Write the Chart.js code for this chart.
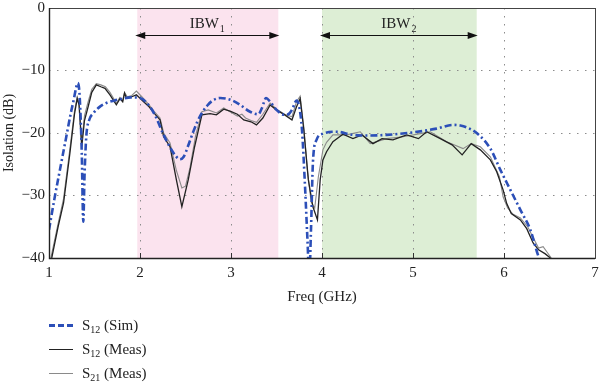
<!DOCTYPE html>
<html>
<head>
<meta charset="utf-8">
<script src="https://cdn.jsdelivr.net/npm/chart.js@4.4.1/dist/chart.umd.min.js"></script>
<style>
  html, body { margin: 0; padding: 0; background: #fff; }
  #wrap { position: relative; width: 600px; height: 388px; }
  #chart { position: absolute; left: 0; top: 0; }
  #legend { position: absolute; left: 49px; top: 313px; font-family: "Liberation Serif", serif; font-size: 15px; color: #222; }
  .row { height: 24px; display: flex; align-items: center; }
  .swatch { width: 24px; margin-right: 9px; }
  .sim { height: 3px; background: repeating-linear-gradient(to right, #2c4fb8 0 6px, transparent 6px 9px); }
  .s12 { height: 0; border-top: 1.3px solid #222; }
  .s21 { height: 0; border-top: 1px solid #8a8a8a; }
  sub { font-size: 10px; vertical-align: baseline; position: relative; top: 3px; }
</style>
</head>
<body>
<div id="wrap">
  <canvas id="chart" width="600" height="388"></canvas>
  <div id="legend">
    <div class="row"><span class="swatch sim"></span><span>S<sub>12</sub> (Sim)</span></div>
    <div class="row"><span class="swatch s12"></span><span>S<sub>12</sub> (Meas)</span></div>
    <div class="row"><span class="swatch s21"></span><span>S<sub>21</sub> (Meas)</span></div>
  </div>
</div>
<script>
// Axis ticks
const xTicks = [1, 2, 3, 4, 5, 6, 7];
const yTicks = [0, -10, -20, -30, -40];

// In-band regions (GHz)
const bandStart = [1.97, 4.0];
const bandEnd = [3.52, 5.70];
const bandSub = ['1', '2'];

// S12 simulated
const simFreq = [1.00, 1.06, 1.12, 1.19, 1.24, 1.27, 1.30, 1.315, 1.33, 1.345, 1.36, 1.377, 1.39, 1.41, 1.44, 1.49,
  1.55, 1.63, 1.72, 1.81, 1.90, 2.00, 2.11, 2.18, 2.25, 2.33, 2.40, 2.44, 2.48, 2.53, 2.58, 2.63, 2.68, 2.74, 2.80,
  2.88, 2.95, 3.03, 3.10, 3.21, 3.30, 3.34, 3.385, 3.43, 3.50, 3.59, 3.64, 3.67, 3.72, 3.75, 3.78, 3.81, 3.84, 3.86,
  3.88, 3.90, 3.94, 4.01, 4.16, 4.34, 4.52, 4.71, 5.00, 5.26, 5.44, 5.52, 5.59, 5.70, 5.85, 5.96, 6.07, 6.18, 6.29,
  6.38, 6.42];
const simIso = [-35.5, -30.5, -25.9, -20.6, -16.8, -14.8, -12.6, -12.0, -12.8, -16.5, -23.2, -34.2, -27.0, -20.5, -18.0, -16.8,
  -15.9, -15.2, -14.8, -14.5, -14.3, -14.4, -15.8, -17.6, -20.0, -22.3, -23.8, -24.2, -23.8, -22.0, -20.0, -18.2, -16.8, -15.6, -14.8,
  -14.4, -14.5, -14.9, -15.5, -16.6, -17.0, -16.0, -14.4, -15.0, -16.3, -17.1, -16.9, -16.3, -14.8, -15.8, -19.5, -27.5, -37.0, -43.0,
  -35.0, -24.8, -21.1, -20.1, -19.8, -20.3, -20.4, -20.3, -19.9, -19.3, -18.7, -18.8, -19.1, -20.0, -22.5, -25.9, -29.1, -32.3, -35.5,
  -39.8, -41.0];

// S12 measured
const s12Freq = [1.03, 1.10, 1.16, 1.23, 1.28, 1.31, 1.33, 1.36, 1.39, 1.43, 1.47, 1.52, 1.57, 1.615, 1.67, 1.74, 1.78, 1.81,
  1.83, 1.85, 1.91, 1.96, 2.04, 2.10, 2.16, 2.22, 2.26, 2.33, 2.40, 2.46, 2.53, 2.60, 2.68, 2.77, 2.84, 2.92, 2.99, 3.07,
  3.14, 3.22, 3.28, 3.35, 3.43, 3.50, 3.59, 3.67, 3.72, 3.76, 3.80, 3.85, 3.90, 3.95, 3.98, 4.01, 4.05, 4.12, 4.23, 4.34,
  4.44, 4.56, 4.66, 4.78, 4.93, 5.06, 5.15, 5.30, 5.43, 5.54, 5.64, 5.74, 5.85, 5.92, 5.99, 6.03, 6.08, 6.18, 6.25, 6.32,
  6.38, 6.45, 6.51];
const s12Iso = [-40.0, -35.0, -31.2, -23.2, -17.0, -14.5, -15.5, -22.2, -18.0, -15.8, -13.5, -12.3, -12.6, -12.85, -13.9, -15.5, -14.5, -15.0,
  -13.6, -14.4, -14.2, -13.9, -15.0, -15.8, -16.9, -17.9, -20.6, -22.2, -27.5, -31.8, -27.5, -22.2, -17.1, -16.9, -17.1, -16.2, -16.5, -17.0,
  -17.9, -18.2, -18.7, -17.6, -15.5, -16.3, -17.1, -17.9, -15.8, -14.5, -19.5, -27.5, -31.8, -33.9, -27.5, -24.3, -23.0, -21.4, -20.2, -20.9,
  -20.3, -21.7, -20.9, -21.1, -20.3, -20.9, -19.8, -20.9, -21.9, -23.5, -21.7, -22.7, -24.3, -26.2, -29.1, -31.3, -32.9, -33.9, -35.3, -37.6,
  -38.7, -39.3, -40.0];

// S21 measured
const s21Freq = [1.02, 1.10, 1.16, 1.23, 1.28, 1.31, 1.33, 1.36, 1.39, 1.43, 1.47, 1.52, 1.57, 1.62, 1.67, 1.74, 1.78, 1.81,
  1.83, 1.86, 1.91, 1.96, 2.02, 2.10, 2.16, 2.22, 2.26, 2.33, 2.40, 2.46, 2.50, 2.55, 2.61, 2.68, 2.75, 2.84, 2.92, 2.99,
  3.07, 3.12, 3.16, 3.22, 3.28, 3.35, 3.43, 3.50, 3.59, 3.67, 3.72, 3.76, 3.80, 3.84, 3.88, 3.92, 3.96, 4.01, 4.05, 4.12,
  4.27, 4.42, 4.53, 4.71, 4.89, 5.08, 5.19, 5.37, 5.55, 5.64, 5.74, 5.85, 5.95, 5.99, 6.04, 6.10, 6.18, 6.26, 6.33, 6.38,
  6.43, 6.48, 6.52];
const s21Iso = [-40.0, -34.5, -30.5, -22.5, -16.5, -14.2, -15.2, -21.5, -17.2, -15.0, -13.0, -12.1, -12.3, -12.6, -13.5, -15.2, -14.3, -14.8,
  -13.5, -14.2, -14.0, -13.3, -14.2, -15.5, -16.6, -17.6, -20.0, -21.6, -26.0, -28.8, -28.5, -25.5, -20.5, -16.6, -16.3, -16.8, -16.0, -16.6,
  -17.3, -17.0, -17.6, -18.0, -18.3, -17.0, -15.2, -16.2, -17.0, -17.4, -15.0, -14.1, -19.0, -26.0, -31.0, -32.0, -27.0, -22.7, -21.5, -20.3,
  -20.3, -19.8, -21.7, -20.9, -20.6, -20.1, -19.8, -21.4, -22.5, -21.7, -22.2, -23.8, -27.0, -30.2, -32.0, -33.0, -33.6, -35.0, -37.0, -38.4,
  -38.2, -39.2, -40.0];

function toPoints(xs, ys) {
    return xs.map((x, i) => ({ x: x, y: ys[i] }));
}

const serif = '"Liberation Serif", "DejaVu Serif", serif';

// shaded bands, arrows, labels and the box around the plot
const bandPlugin = {
    id: 'bands',
    beforeDraw(chart) {
        const { ctx, chartArea, scales: { x } } = chart;
        const colors = ['#fbe3ee', '#ddeed5'];
        ctx.save();
        bandStart.forEach((s, i) => {
            const x0 = x.getPixelForValue(s);
            const x1 = x.getPixelForValue(bandEnd[i]);
            ctx.fillStyle = colors[i];
            ctx.fillRect(x0, chartArea.top, x1 - x0, chartArea.bottom - chartArea.top);
        });
        ctx.restore();
    },
    afterDraw(chart) {
        const { ctx, chartArea, scales: { x, y } } = chart;
        ctx.save();
        const ya = Math.round(y.getPixelForValue(-4.3)) + 0.5;
        bandStart.forEach((s, i) => {
            const x0 = x.getPixelForValue(s) - 2;
            const x1 = x.getPixelForValue(bandEnd[i]) + 1;
            ctx.strokeStyle = '#111';
            ctx.fillStyle = '#111';
            ctx.lineWidth = 1.2;
            ctx.beginPath();
            ctx.moveTo(x0 + 6, ya);
            ctx.lineTo(x1 - 6, ya);
            ctx.stroke();
            // heads
            ctx.beginPath();
            ctx.moveTo(x0, ya);
            ctx.lineTo(x0 + 10, ya - 3.5);
            ctx.lineTo(x0 + 10, ya + 3.5);
            ctx.closePath();
            ctx.fill();
            ctx.beginPath();
            ctx.moveTo(x1, ya);
            ctx.lineTo(x1 - 10, ya - 3.5);
            ctx.lineTo(x1 - 10, ya + 3.5);
            ctx.closePath();
            ctx.fill();
            // label IBW with subscript
            const mid = (x0 + x1) / 2;
            ctx.font = '15px ' + serif;
            const w1 = ctx.measureText('IBW').width;
            ctx.font = '10px ' + serif;
            const w2 = ctx.measureText(bandSub[i]).width;
            const start = mid - (w1 + w2 + 1) / 2;
            const base = ya - 8;
            ctx.fillStyle = '#222';
            ctx.textBaseline = 'alphabetic';
            ctx.font = '15px ' + serif;
            ctx.fillText('IBW', start, base);
            ctx.font = '10px ' + serif;
            ctx.fillText(bandSub[i], start + w1 + 1, base + 4);
        });

        // inner ticks on the x axis
        ctx.strokeStyle = '#333';
        ctx.lineWidth = 1;
        xTicks.forEach(v => {
            const px = Math.round(x.getPixelForValue(v)) + 0.5;
            ctx.beginPath();
            ctx.moveTo(px, chartArea.bottom);
            ctx.lineTo(px, chartArea.bottom - 5);
            ctx.stroke();
        });

        // frame
        ctx.strokeStyle = '#444';
        ctx.lineWidth = 1;
        ctx.strokeRect(Math.round(chartArea.left) + 0.5, Math.round(chartArea.top) + 0.5,
            Math.round(chartArea.right - chartArea.left), Math.round(chartArea.bottom - chartArea.top));
        ctx.strokeStyle = '#222';
        ctx.lineWidth = 1.4;
        ctx.beginPath();
        ctx.moveTo(chartArea.left + 0.5, chartArea.top);
        ctx.lineTo(chartArea.left + 0.5, chartArea.bottom + 0.5);
        ctx.lineTo(chartArea.right, chartArea.bottom + 0.5);
        ctx.stroke();
        ctx.restore();
    }
};

const ctx = document.getElementById('chart').getContext('2d');
new Chart(ctx, {
    type: 'line',
    data: {
        datasets: [{
            label: 'S12 (Sim)',
            data: toPoints(simFreq, simIso),
            borderColor: '#2c4fb8',
            borderWidth: 2.6,
            borderDash: [7, 3, 2, 3],
            pointRadius: 0,
            cubicInterpolationMode: 'monotone',
            fill: false
        }, {
            label: 'S12 (Meas)',
            data: toPoints(s12Freq, s12Iso),
            borderColor: '#222222',
            borderWidth: 1.3,
            pointRadius: 0,
            tension: 0,
            fill: false
        }, {
            label: 'S21 (Meas)',
            data: toPoints(s21Freq, s21Iso),
            borderColor: '#8a8a8a',
            borderWidth: 1.1,
            pointRadius: 0,
            tension: 0,
            fill: false
        }]
    },
    options: {
        responsive: false,
        animation: false,
        layout: { padding: { left: 0, top: 8, right: 5, bottom: 80 } },
        plugins: {
            legend: { display: false },
            tooltip: { enabled: false }
        },
        scales: {
            x: {
                type: 'linear',
                min: 1,
                max: 7,
                afterBuildTicks: s => { s.ticks = xTicks.map(v => ({ value: v })); },
                afterFit: s => { s.height = 50; s.paddingLeft = 0; s.paddingRight = 0; },
                ticks: { color: '#222', padding: 6, font: { family: serif, size: 15 } },
                grid: { color: '#8c8c8c', lineWidth: 1, drawTicks: false },
                border: { display: false, dash: [1.5, 6.5] },
                title: { display: true, text: 'Freq (GHz)', color: '#222', font: { family: serif, size: 15 }, padding: { top: 0, bottom: 2 } }
            },
            y: {
                min: -40,
                max: 0,
                afterBuildTicks: s => { s.ticks = yTicks.map(v => ({ value: v })); },
                afterFit: s => { s.width = 49; s.paddingTop = 0; s.paddingBottom = 0; },
                ticks: {
                    color: '#222', padding: 4, font: { family: serif, size: 15 },
                    callback: v => String(v).replace('-', '\u2212')
                },
                grid: { color: '#8c8c8c', lineWidth: 1, drawTicks: false },
                border: { display: false, dash: [1.5, 6.5] },
                title: { display: true, text: 'Isolation (dB)', color: '#222', font: { family: serif, size: 14 }, padding: { top: 1, bottom: 0 } }
            }
        }
    },
    plugins: [bandPlugin]
});
</script>
</body>
</html>
